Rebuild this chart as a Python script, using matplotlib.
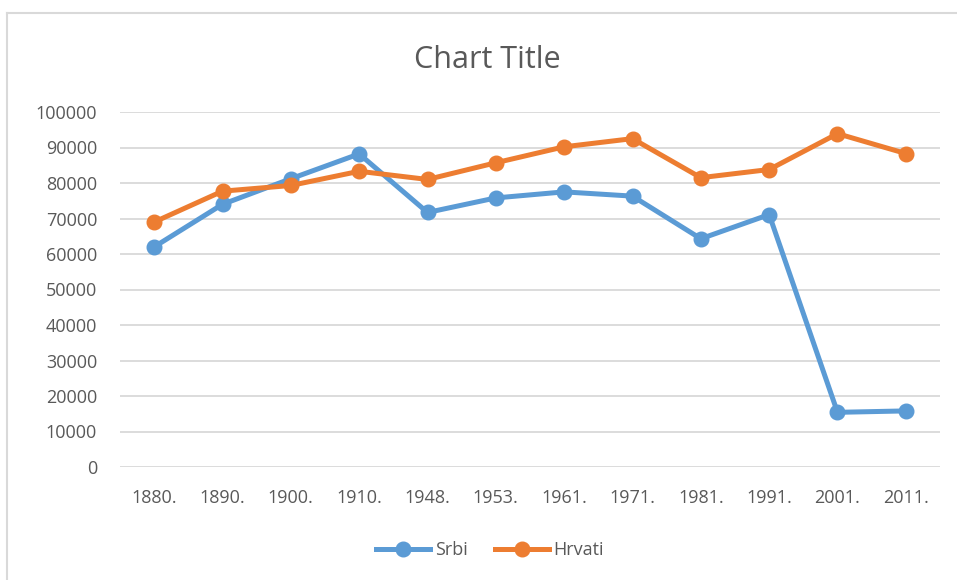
import matplotlib
matplotlib.use("Agg")
import matplotlib.pyplot as plt
from matplotlib.lines import Line2D

categories = ["1880.", "1890.", "1900.", "1910.", "1948.", "1953.", "1961.", "1971.", "1981.", "1991.", "2001.", "2011."]
srbi = [62000, 74000, 81200, 88200, 71700, 75800, 77500, 76300, 64300, 71100, 15400, 15800]
hrvati = [69000, 77700, 79300, 83300, 81000, 85700, 90200, 92500, 81500, 83800, 93900, 88300]
yticks = list(range(0, 100001, 10000))

plt.rcParams['font.family'] = ['Open Sans', 'DejaVu Sans']
fig = plt.figure(figsize=(9.57, 5.8), dpi=100)
ax = fig.add_axes([120/957, 1-467/580, 820/957, 355/580])

blue = "#5B9BD5"
orange = "#ED7D31"
x = list(range(len(categories)))
ax.plot(x, srbi, color=blue, lw=3.6, marker='o', ms=10.5, solid_capstyle='round', label="Srbi", zorder=3)
ax.plot(x, hrvati, color=orange, lw=3.6, marker='o', ms=10.5, solid_capstyle='round', label="Hrvati", zorder=3)

ax.set_xlim(-0.5, len(categories) - 0.5)
ax.set_ylim(0, 100000)
ax.set_yticks(yticks)
ax.set_yticklabels([str(v) for v in yticks])
ax.set_xticks(x)
ax.set_xticklabels(categories)
ax.grid(axis='y', color="#D9D9D9", lw=1.3)
ax.set_axisbelow(True)
for s in ax.spines.values():
    s.set_visible(False)
ax.tick_params(length=0, colors="#595959", labelsize=13)
ax.tick_params(axis='y', pad=16.5)
ax.tick_params(axis='x', pad=16)

fig.text(487/957, 1-60/580, "Chart Title", ha='center', va='center', fontsize=22, color="#595959")

handles = [Line2D([], [], color=blue, lw=3.6, marker='o', ms=10.5),
           Line2D([], [], color=orange, lw=3.6, marker='o', ms=10.5)]
fig.legend(handles, ["Srbi", "Hrvati"], loc='center', bbox_to_anchor=(490/957, 1-550/580), ncol=2,
           frameon=False, fontsize=13, labelcolor="#595959", handlelength=3.0,
           handletextpad=0.25, columnspacing=1.5)

# chart border (top and left visible)
fig.add_artist(Line2D([7/957, 1], [1-13/580, 1-13/580], color="#D9D9D9", lw=1.5))
fig.add_artist(Line2D([7/957, 7/957], [0, 1-13/580], color="#D9D9D9", lw=1.5))

fig.savefig("out.png", dpi=100, facecolor="white")
